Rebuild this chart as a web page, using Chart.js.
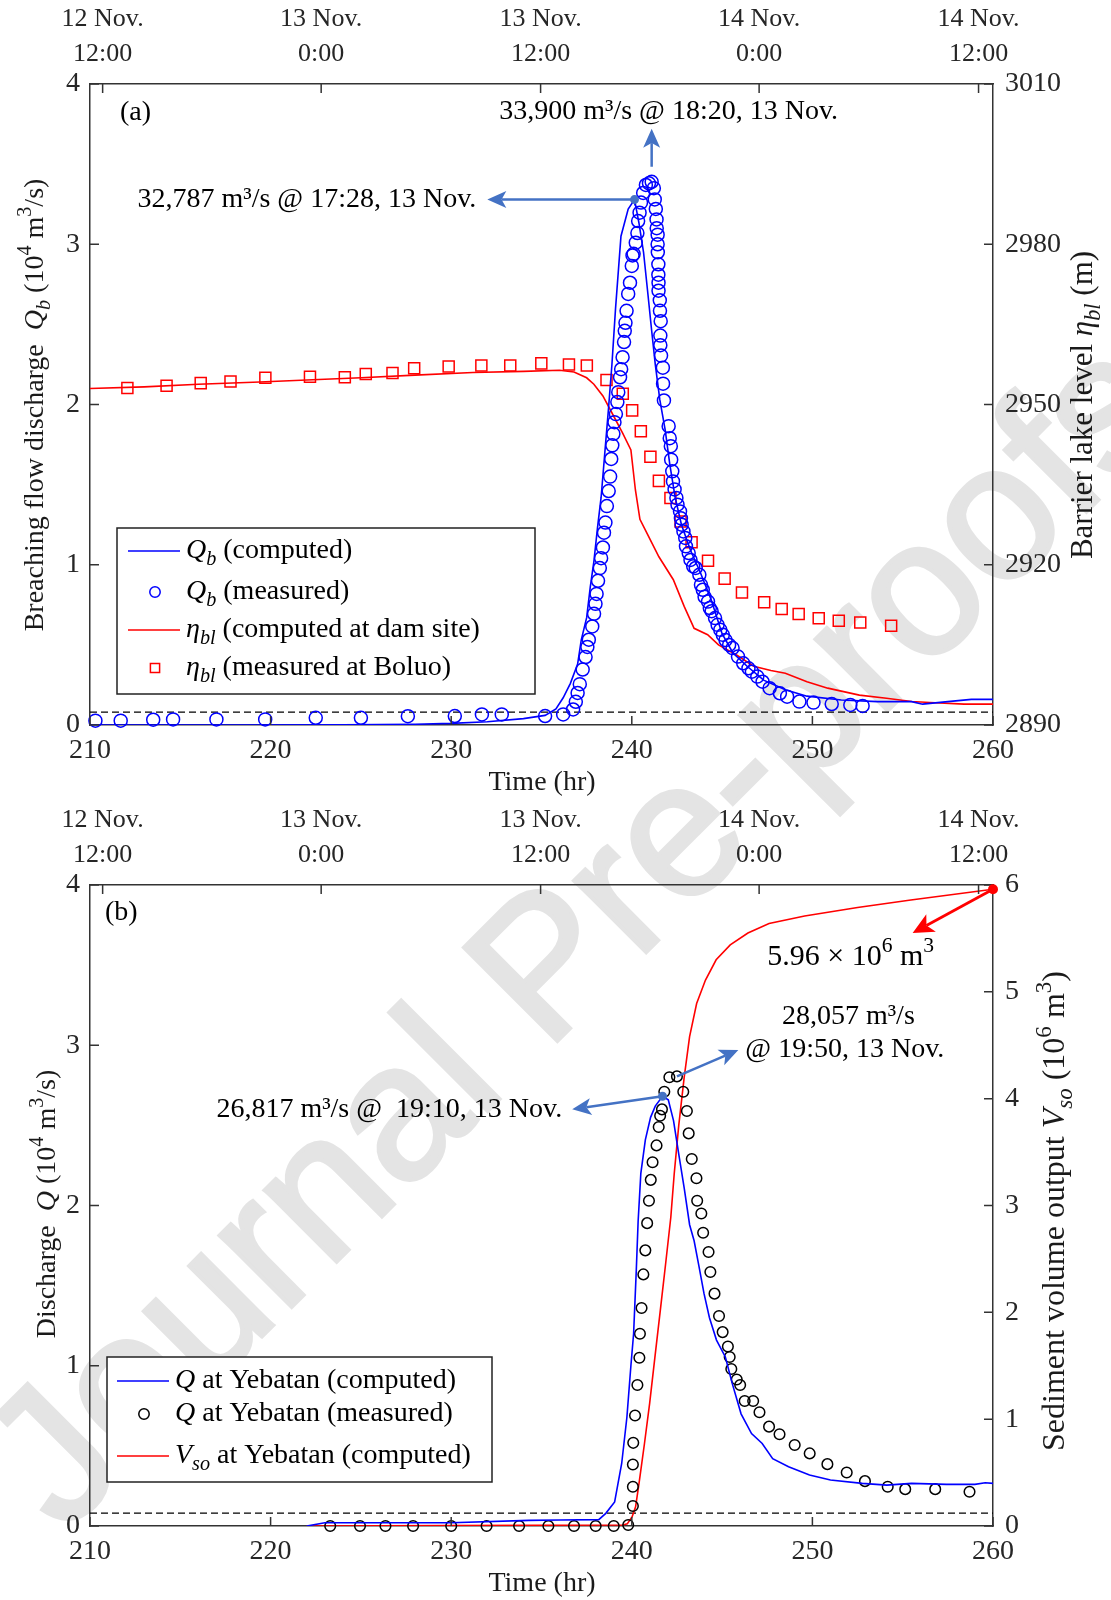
<!DOCTYPE html>
<html>
<head>
<meta charset="utf-8">
<title>Breaching flow and barrier lake level</title>
<script src="https://cdn.jsdelivr.net/npm/chart.js@4.4.1/dist/chart.umd.min.js"></script>
<style>
  html, body { margin: 0; padding: 0; background: #fff; }
  #page { position: relative; width: 1111px; height: 1600px; overflow: hidden; }
  #stamp { position: absolute; left: 575px; top: 930px; transform: translate(-50%, -50%) rotate(-45deg);
           font: 192px "Liberation Sans", Arial, sans-serif; color: #e4e4e4; -webkit-text-stroke: 4px #e4e4e4;
           white-space: nowrap; line-height: 1; }
  .panel { position: absolute; left: 0; width: 1111px; height: 800px; }
</style>
</head>
<body>
<div id="page">
  <div id="stamp">Journal Pre-proofs</div>
  <canvas id="chartA" class="panel" style="top:0" width="1111" height="800"></canvas>
  <canvas id="chartB" class="panel" style="top:800px" width="1111" height="800"></canvas>
</div>
<script>
const FONT = '"Liberation Serif", "Times New Roman", serif';
const AXIS = '#333333';
const NOTE_BLUE = '#4472c4';

// lower axis: model hours
const hourTicks = [210, 220, 230, 240, 250, 260];
// upper axis: calendar time at the same hours
const dateTickHours = [210.7, 222.8, 234.95, 247.05, 259.2];
const dateTickLabels = [["12 Nov.", "12:00"], ["13 Nov.", "0:00"], ["13 Nov.", "12:00"], ["14 Nov.", "0:00"], ["14 Nov.", "12:00"]];

// (a) breaching flow discharge, 10^4 m3/s
const qbComputed = [
  [210, 0], [218, 0], [224, 0.002], [228, 0.005], [230, 0.01], [232, 0.02], [234, 0.04], [235.2, 0.06],
  [235.8, 0.1], [236.2, 0.17], [236.6, 0.26], [237.0, 0.38], [237.2, 0.53], [237.5, 0.67], [237.7, 0.86],
  [237.9, 1.02], [238.1, 1.23], [238.3, 1.42], [238.5, 1.69], [238.7, 1.96], [238.9, 2.25], [239.1, 2.6],
  [239.4, 3.05], [239.8, 3.22], [240.15, 3.2787], [240.4, 3.13], [240.65, 2.95], [240.9, 2.68], [241.1, 2.46],
  [241.3, 2.25], [241.55, 2.03], [241.85, 1.84], [242.1, 1.63], [242.4, 1.42], [242.75, 1.25], [243.25, 1.09],
  [243.8, 0.95], [244.4, 0.78], [245.0, 0.57], [245.6, 0.45], [246.4, 0.365], [247.3, 0.28], [248.5, 0.22],
  [249.7, 0.18], [251.6, 0.156], [253.6, 0.146], [255.5, 0.146], [256.1, 0.13], [257.5, 0.146], [258.8, 0.16], [260, 0.16]
];
const qbMeasured = [
  [210.3, 0.027], [211.7, 0.027], [213.5, 0.033], [214.6, 0.035], [217.0, 0.035], [219.7, 0.035], [222.5, 0.045],
  [225.0, 0.045], [227.6, 0.055], [230.2, 0.056], [231.7, 0.066], [232.8, 0.066], [235.2, 0.056], [236.2, 0.066],
  [236.75, 0.097], [236.9, 0.145], [237.0, 0.2], [237.12, 0.255], [237.28, 0.346], [237.44, 0.424], [237.54, 0.487],
  [237.62, 0.532], [237.81, 0.615], [237.91, 0.694], [237.99, 0.756], [238.05, 0.818], [238.13, 0.9], [238.23, 0.979],
  [238.3, 1.041], [238.4, 1.108], [238.46, 1.2], [238.54, 1.263], [238.62, 1.366], [238.72, 1.46], [238.8, 1.55],
  [238.86, 1.66], [238.92, 1.745], [238.98, 1.817], [239.04, 1.89], [239.12, 1.94], [239.2, 2.015], [239.25, 2.077],
  [239.35, 2.17], [239.41, 2.22], [239.49, 2.295], [239.57, 2.39], [239.61, 2.46], [239.65, 2.51], [239.71, 2.585],
  [239.8, 2.69], [239.9, 2.76], [240.0, 2.865], [240.04, 2.93], [240.1, 2.94], [240.22, 3.01], [240.31, 3.07],
  [240.35, 3.145], [240.43, 3.197], [240.51, 3.26], [240.63, 3.32], [240.78, 3.37], [240.95, 3.38], [241.1, 3.39],
  [241.22, 3.35], [241.27, 3.28], [241.33, 3.22], [241.37, 3.155], [241.38, 3.1], [241.43, 3.06], [241.43, 3.0],
  [241.44, 2.95], [241.47, 2.875], [241.47, 2.81], [241.48, 2.76], [241.48, 2.71], [241.55, 2.65], [241.56, 2.585],
  [241.6, 2.52], [241.58, 2.43], [241.58, 2.37], [241.62, 2.305], [241.72, 2.23], [241.73, 2.13], [241.78, 2.025],
  [242.04, 1.865], [242.1, 1.79], [242.16, 1.74], [242.18, 1.656], [242.24, 1.583], [242.28, 1.52], [242.37, 1.47],
  [242.47, 1.417], [242.53, 1.375], [242.67, 1.333], [242.72, 1.29], [242.76, 1.25], [242.86, 1.208], [242.96, 1.167],
  [243.0, 1.115], [243.15, 1.073], [243.25, 1.03], [243.4, 0.99], [243.54, 0.98], [243.74, 0.9375], [243.83, 0.875],
  [243.93, 0.844], [244.03, 0.8], [244.22, 0.77], [244.32, 0.73], [244.42, 0.71], [244.61, 0.667], [244.75, 0.625],
  [244.9, 0.594], [245.04, 0.5625], [245.19, 0.53], [245.39, 0.5], [245.58, 0.48], [245.88, 0.427], [246.17, 0.385],
  [246.46, 0.354], [246.65, 0.333], [246.95, 0.302], [247.24, 0.27], [247.63, 0.23], [248.2, 0.198], [248.6, 0.177],
  [249.28, 0.146], [250.06, 0.14], [251.07, 0.131], [252.1, 0.125], [252.78, 0.119]
];
// (a) barrier lake level, m
const etaComputed = [
  [210, 2953.0], [213, 2953.3], [216, 2953.8], [219.4, 2954.2], [222, 2954.6], [225, 2955.0], [228, 2955.5],
  [231.2, 2956.0], [234, 2956.2], [236.0, 2956.4], [236.8, 2956.1], [237.5, 2955.0], [237.9, 2953.8], [238.4, 2951.6],
  [239.0, 2947.8], [239.5, 2944.6], [239.95, 2941.5], [240.2, 2934.0], [240.45, 2928.5], [240.9, 2925.5],
  [241.5, 2921.5], [242.3, 2917.2], [242.9, 2912.2], [243.45, 2908.1], [244.2, 2906.9], [244.8, 2905.0],
  [245.8, 2903.1], [246.75, 2901.0], [247.7, 2900.2], [248.5, 2899.7], [249.7, 2898.1], [250.85, 2896.9],
  [252.6, 2895.6], [254.1, 2895.0], [255.5, 2894.4], [256.5, 2894.2], [258.4, 2893.9], [260, 2893.9]
];
const etaMeasured = [
  [212.07, 2953.1], [214.24, 2953.5], [216.13, 2954.0], [217.78, 2954.3], [219.71, 2955.0], [222.18, 2955.2],
  [224.11, 2955.1], [225.27, 2955.7], [226.75, 2955.9], [227.95, 2956.8], [229.86, 2957.1], [231.67, 2957.3],
  [233.27, 2957.3], [234.99, 2957.7], [236.52, 2957.5], [237.51, 2957.3], [238.6, 2954.6], [239.5, 2952.0],
  [240.02, 2948.9], [240.5, 2945.0], [241.03, 2940.2], [241.5, 2935.7], [242.14, 2932.5], [242.7, 2928.1],
  [243.31, 2924.2], [244.22, 2920.75], [245.14, 2917.4], [246.1, 2914.8], [247.33, 2913.0], [248.3, 2911.7],
  [249.24, 2910.8], [250.35, 2910.0], [251.46, 2909.5], [252.65, 2909.2], [254.36, 2908.6]
];

// (b) discharge at Yebatan, 10^4 m3/s
const qComputed = [
  [222, 0], [223, 0.02], [230, 0.02], [234.3, 0.035], [236, 0.037], [238.17, 0.04], [238.56, 0.079], [239.05, 0.15],
  [239.44, 0.39], [239.73, 0.68], [239.95, 1.0], [240.1, 1.2], [240.25, 1.6], [240.35, 1.9], [240.5, 2.2],
  [240.75, 2.41], [241.04, 2.55], [241.3, 2.62], [241.7, 2.6817], [242.02, 2.66], [242.31, 2.53], [242.6, 2.32],
  [242.9, 2.11], [243.2, 1.88], [243.45, 1.78], [243.72, 1.62], [244.0, 1.45], [244.3, 1.3], [244.69, 1.16],
  [245.18, 1.055], [245.56, 0.89], [246.05, 0.7], [246.63, 0.577], [247.22, 0.515], [247.8, 0.42], [248.68, 0.37],
  [249.84, 0.318], [251.0, 0.287], [252.76, 0.266], [254.12, 0.255], [255.49, 0.266], [257.43, 0.26], [259.0, 0.26],
  [259.57, 0.27], [260, 0.266]
];
const qMeasured = [
  [223.3, 0], [224.95, 0], [226.36, 0], [227.89, 0], [230.0, 0], [231.96, 0], [233.76, 0], [235.38, 0],
  [236.8, 0], [238.0, 0], [239.0, 0], [239.8, 0.006], [240.06, 0.125], [240.06, 0.245], [240.06, 0.384],
  [240.08, 0.519], [240.18, 0.69], [240.31, 0.88], [240.42, 1.05], [240.45, 1.2], [240.54, 1.36], [240.64, 1.57],
  [240.75, 1.72], [240.85, 1.89], [240.95, 2.03], [241.05, 2.16], [241.15, 2.27], [241.37, 2.375], [241.49, 2.49],
  [241.57, 2.56], [241.67, 2.6], [241.8, 2.71], [242.08, 2.8], [242.5, 2.8057], [242.85, 2.71], [243.05, 2.59],
  [243.15, 2.45], [243.32, 2.29], [243.58, 2.17], [243.62, 2.03], [243.85, 1.95], [243.95, 1.83], [244.25, 1.71],
  [244.35, 1.585], [244.58, 1.45], [244.83, 1.31], [245.03, 1.21], [245.32, 1.12], [245.42, 1.055], [245.51, 0.98],
  [245.81, 0.914], [246.0, 0.88], [246.25, 0.78], [246.72, 0.78], [247.07, 0.71], [247.6, 0.62], [248.18, 0.573],
  [249.02, 0.505], [249.85, 0.453], [250.83, 0.386], [251.9, 0.334], [252.91, 0.28], [254.17, 0.245],
  [255.14, 0.23], [256.8, 0.23], [258.7, 0.214]
];
// (b) sediment volume output, 10^6 m3
const vsoComputed = [
  [222, 0], [230, 0.005], [239.5, 0.01], [239.75, 0.02], [240.02, 0.087], [240.21, 0.18], [240.4, 0.4],
  [240.7, 0.77], [240.99, 1.15], [241.28, 1.58], [241.58, 2.02], [241.87, 2.45], [242.16, 2.89], [242.35, 3.3],
  [242.6, 3.75], [242.9, 4.2], [243.2, 4.58], [243.59, 4.89], [244.08, 5.11], [244.67, 5.3], [245.45, 5.44],
  [246.43, 5.55], [247.6, 5.64], [249.57, 5.71], [252.5, 5.79], [255.45, 5.86], [260, 5.96]
];

// dashed reference discharge
const threshold = 0.08;

const toXY = arr => arr.map(([x, y]) => ({ x, y }));
const peakOf = arr => arr.reduce((m, p) => (p[1] > m[1] ? p : m));
const fmtQ = v => Math.round(v * 10000).toLocaleString('en-US');

// ---------- text helpers ----------
function fontFor(style, size) {
  const small = style.includes('sub') || style.includes('sup');
  const s = small ? size * 0.72 : size;
  return (style.includes('i') ? 'italic ' : '') + s + 'px ' + FONT;
}
function drawRich(ctx, runs, x, y, size, align, color) {
  let w = 0;
  runs.forEach(([t, st = '']) => { ctx.font = fontFor(st, size); w += ctx.measureText(t).width; });
  let cx = align === 'center' ? x - w / 2 : align === 'right' ? x - w : x;
  ctx.save();
  ctx.fillStyle = color || '#000';
  ctx.textBaseline = 'middle';
  ctx.textAlign = 'left';
  runs.forEach(([t, st = '']) => {
    ctx.font = fontFor(st, size);
    const dy = st.includes('sub') ? size * 0.32 : st.includes('sup') ? -size * 0.36 : 0;
    ctx.fillText(t, cx, y + dy);
    cx += ctx.measureText(t).width;
  });
  ctx.restore();
}
function drawVertical(ctx, runs, cx, cy, size = 28) {
  ctx.save();
  ctx.translate(cx, cy);
  ctx.rotate(-Math.PI / 2);
  drawRich(ctx, runs, 0, 0, size, 'center', '#1a1a1a');
  ctx.restore();
}

// ---------- drawing helpers ----------
function arrow(ctx, x1, y1, x2, y2, color, head = 19, half = 8.5, lw = 2.5) {
  const a = Math.atan2(y2 - y1, x2 - x1);
  const c = Math.cos(a), s = Math.sin(a);
  const bx = x2 - head * c, by = y2 - head * s;
  const nx = x2 - head * 0.75 * c, ny = y2 - head * 0.75 * s;
  ctx.save();
  ctx.strokeStyle = color; ctx.fillStyle = color; ctx.lineWidth = lw;
  ctx.beginPath(); ctx.moveTo(x1, y1); ctx.lineTo(nx, ny); ctx.stroke();
  ctx.beginPath();
  ctx.moveTo(x2, y2);
  ctx.lineTo(bx + half * s, by - half * c);
  ctx.lineTo(nx, ny);
  ctx.lineTo(bx - half * s, by + half * c);
  ctx.closePath(); ctx.fill();
  ctx.restore();
}
function dot(ctx, x, y, r, color) {
  ctx.save(); ctx.fillStyle = color;
  ctx.beginPath(); ctx.arc(x, y, r, 0, Math.PI * 2); ctx.fill();
  ctx.restore();
}
function drawInwardTicks(chart) {
  const { ctx, chartArea: a, scales } = chart;
  const L = 9;
  ctx.save();
  ctx.strokeStyle = AXIS; ctx.lineWidth = 1.5;
  ctx.beginPath();
  scales.x.ticks.forEach(t => { const p = scales.x.getPixelForValue(t.value); ctx.moveTo(p, a.bottom); ctx.lineTo(p, a.bottom - L); });
  scales.xTop.ticks.forEach(t => { const p = scales.xTop.getPixelForValue(t.value); ctx.moveTo(p, a.top); ctx.lineTo(p, a.top + L); });
  scales.y.ticks.forEach(t => { const p = scales.y.getPixelForValue(t.value); ctx.moveTo(a.left, p); ctx.lineTo(a.left + L, p); });
  scales.y2.ticks.forEach(t => { const p = scales.y2.getPixelForValue(t.value); ctx.moveTo(a.right, p); ctx.lineTo(a.right - L, p); });
  ctx.stroke();
  ctx.restore();
}
function drawLegend(ctx, box, rows) {
  ctx.save();
  ctx.fillStyle = '#fff';
  ctx.fillRect(box.x, box.y, box.w, box.h);
  ctx.strokeStyle = '#222'; ctx.lineWidth = 1.5;
  ctx.strokeRect(box.x, box.y, box.w, box.h);
  rows.forEach(r => {
    ctx.strokeStyle = r.color; ctx.lineWidth = 1.5;
    ctx.beginPath();
    if (r.kind === 'line') { ctx.moveTo(box.sx0, r.y); ctx.lineTo(box.sx1, r.y); }
    else if (r.kind === 'circle') { ctx.arc(box.mx, r.y, 5.2, 0, Math.PI * 2); }
    else { ctx.rect(box.mx - 4.6, r.y - 4.6, 9.2, 9.2); }
    ctx.stroke();
    drawRich(ctx, r.runs, box.tx, r.y, 28, 'left', '#000');
  });
  ctx.restore();
}

// ---------- chart setup ----------
function scalesFor(y2Min, y2Max, y2Step, topH, bottomH) {
  const tickFont = { family: FONT, size: 28 };
  const common = { grid: { display: false, drawTicks: false }, border: { display: true, color: AXIS, width: 1.5 } };
  return {
    x: Object.assign({
      type: 'linear', position: 'bottom', min: 210, max: 260,
      afterBuildTicks: s => { s.ticks = hourTicks.map(v => ({ value: v })); },
      afterFit: s => { s.height = bottomH; },
      ticks: { font: tickFont, color: '#262626', padding: 9, maxRotation: 0, autoSkip: false, callback: v => String(v) }
    }, common),
    xTop: Object.assign({
      type: 'linear', position: 'top', min: 210, max: 260,
      afterBuildTicks: s => { s.ticks = dateTickHours.map(v => ({ value: v })); },
      afterFit: s => { s.height = topH; },
      ticks: { font: { family: FONT, size: 26, lineHeight: 1.35 }, color: '#262626', padding: 12, maxRotation: 0,
               autoSkip: false, callback: (v, i) => dateTickLabels[i] }
    }, common),
    y: Object.assign({
      type: 'linear', position: 'left', min: 0, max: 4,
      afterFit: s => { s.width = 90; },
      ticks: { font: tickFont, color: '#262626', padding: 10, stepSize: 1, callback: v => String(v) }
    }, common),
    y2: Object.assign({
      type: 'linear', position: 'right', min: y2Min, max: y2Max,
      afterFit: s => { s.width = 118; },
      ticks: { font: tickFont, color: '#262626', padding: 12, stepSize: y2Step, callback: v => String(v) }
    }, common)
  };
}
function lineSet(data, color, axis) {
  return { data: toXY(data), showLine: true, borderColor: color, borderWidth: 1.6, pointRadius: 0, yAxisID: axis, tension: 0 };
}
function markerSet(data, color, style, r, axis) {
  return { data: toXY(data), showLine: false, pointStyle: style, pointRadius: r, borderColor: color,
           backgroundColor: 'rgba(0,0,0,0)', borderWidth: 1.5, yAxisID: axis, clip: false };
}
function dashSet(level) {
  return { data: [{ x: 210, y: level }, { x: 260, y: level }], showLine: true, borderColor: '#000',
           borderWidth: 1.2, borderDash: [7, 4], pointRadius: 0, yAxisID: 'y' };
}
const baseOptions = (scales) => ({
  responsive: false, animation: false, devicePixelRatio: 1, events: [],
  layout: { padding: 0 },
  plugins: { legend: { display: false }, tooltip: { enabled: false } },
  scales
});

// panel (a): discharge and lake level
const extrasA = {
  id: 'extrasA',
  afterDraw(chart) {
    const { ctx, scales: { x, y } } = chart;
    drawInwardTicks(chart);
    drawVertical(ctx, [['Breaching flow discharge  '], ['Q', 'i'], ['b', 'isub'], [' (10'], ['4', 'sup'], [' m'], ['3', 'sup'], ['/s)']], 36, 405);
    drawVertical(ctx, [['Barrier lake level '], ['η', 'i'], ['bl', 'isub'], [' (m)']], 1084, 405, 31);
    drawRich(ctx, [['Time (hr)']], 542, 783, 28, 'center', '#1a1a1a');
    drawRich(ctx, [['(a)']], 120, 113, 28, 'left');

    const [pt, pv] = peakOf(qbComputed);
    const px = x.getPixelForValue(pt), py = y.getPixelForValue(pv);
    const tipX = x.getPixelForValue(232.0);
    arrow(ctx, px, py, tipX, py, NOTE_BLUE);
    dot(ctx, px, py, 4.5, NOTE_BLUE);
    drawRich(ctx, [[fmtQ(pv) + ' m³/s @ 17:28, 13 Nov.']], tipX - 11, py, 28, 'right');

    const [mt, mv] = peakOf(qbMeasured);
    const mx = x.getPixelForValue(mt), my = y.getPixelForValue(mv);
    const upY = y.getPixelForValue(3.72);
    arrow(ctx, mx, my - 15, mx, upY, NOTE_BLUE);
    drawRich(ctx, [[fmtQ(mv) + ' m³/s @ 18:20, 13 Nov.']], mx + 17, upY - 17, 28, 'center');

    drawLegend(ctx, { x: 117, y: 528, w: 418, h: 166, sx0: 128, sx1: 180, mx: 155, tx: 186 }, [
      { kind: 'line', color: '#0000ff', y: 551, runs: [['Q', 'i'], ['b', 'isub'], [' (computed)']] },
      { kind: 'circle', color: '#0000ff', y: 592, runs: [['Q', 'i'], ['b', 'isub'], [' (measured)']] },
      { kind: 'line', color: '#ff0000', y: 630, runs: [['η', 'i'], ['bl', 'isub'], [' (computed at dam site)']] },
      { kind: 'rect', color: '#ff0000', y: 668, runs: [['η', 'i'], ['bl', 'isub'], [' (measured at Boluo)']] }
    ]);
  }
};

// panel (b): discharge and sediment output at Yebatan
const extrasB = {
  id: 'extrasB',
  afterDraw(chart) {
    const { ctx, scales: { x, y, y2 } } = chart;
    drawInwardTicks(chart);
    drawVertical(ctx, [['Discharge  '], ['Q', 'i'], [' (10'], ['4', 'sup'], [' m'], ['3', 'sup'], ['/s)']], 48, 404);
    drawVertical(ctx, [['Sediment volume output '], ['V', 'i'], ['so', 'isub'], [' (10'], ['6', 'sup'], [' m'], ['3', 'sup'], [')']], 1056, 411, 32);
    drawRich(ctx, [['Time (hr)']], 542, 784, 28, 'center', '#1a1a1a');
    drawRich(ctx, [['(b)']], 105, 113, 28, 'left');

    const [ct, cv] = peakOf(qComputed);
    const cx = x.getPixelForValue(ct), cy = y.getPixelForValue(cv);
    const tx = x.getPixelForValue(236.7), ty = y.getPixelForValue(2.6);
    arrow(ctx, cx, cy, tx, ty, NOTE_BLUE);
    dot(ctx, cx, cy, 4.5, NOTE_BLUE);
    drawRich(ctx, [[fmtQ(cv) + ' m³/s @  19:10, 13 Nov.']], tx - 10, ty, 28, 'right');

    const [mt, mv] = peakOf(qMeasured);
    const mx = x.getPixelForValue(mt), my = y.getPixelForValue(mv);
    const ux = x.getPixelForValue(245.9), uy = y.getPixelForValue(2.97);
    arrow(ctx, mx, my, ux, uy, NOTE_BLUE);
    drawRich(ctx, [[fmtQ(mv) + ' m³/s']], ux + 110, uy - 33, 28, 'center');
    drawRich(ctx, [['@ 19:50, 13 Nov.']], ux + 7, uy, 28, 'left');

    const [vt, vv] = vsoComputed[vsoComputed.length - 1];
    const vx = x.getPixelForValue(vt), vy = y2.getPixelForValue(vv);
    const wx = x.getPixelForValue(255.55), wy = y2.getPixelForValue(5.55);
    arrow(ctx, vx, vy, wx, wy, '#ff0000', 21, 10, 2.8);
    dot(ctx, vx, vy, 5, '#ff0000');
    drawRich(ctx, [[vv.toFixed(2) + ' × 10'], ['6', 'sup'], [' m'], ['3', 'sup']], wx - 62, wy + 24, 30, 'center');

    drawLegend(ctx, { x: 107, y: 557, w: 385, h: 125, sx0: 117, sx1: 169, mx: 144, tx: 175 }, [
      { kind: 'line', color: '#0000ff', y: 581, runs: [['Q', 'i'], [' at Yebatan (computed)']] },
      { kind: 'circle', color: '#000000', y: 614, runs: [['Q', 'i'], [' at Yebatan (measured)']] },
      { kind: 'line', color: '#ff0000', y: 656, runs: [['V', 'i'], ['so', 'isub'], [' at Yebatan (computed)']] }
    ]);
  }
};

new Chart(document.getElementById('chartA'), {
  type: 'scatter',
  data: {
    datasets: [
      lineSet(qbComputed, '#0000ff', 'y'),
      markerSet(qbMeasured, '#0000ff', 'circle', 6.5, 'y'),
      lineSet(etaComputed, '#ff0000', 'y2'),
      markerSet(etaMeasured, '#ff0000', 'rect', 7.8, 'y2'),
      dashSet(threshold)
    ]
  },
  options: baseOptions(scalesFor(2890, 3010, 30, 84, 75)),
  plugins: [extrasA]
});

new Chart(document.getElementById('chartB'), {
  type: 'scatter',
  data: {
    datasets: [
      lineSet(qComputed, '#0000ff', 'y'),
      markerSet(qMeasured, '#000000', 'circle', 5.3, 'y'),
      lineSet(vsoComputed, '#ff0000', 'y2'),
      dashSet(threshold)
    ]
  },
  options: baseOptions(scalesFor(0, 6, 1, 85, 74)),
  plugins: [extrasB]
});
</script>
</body>
</html>
